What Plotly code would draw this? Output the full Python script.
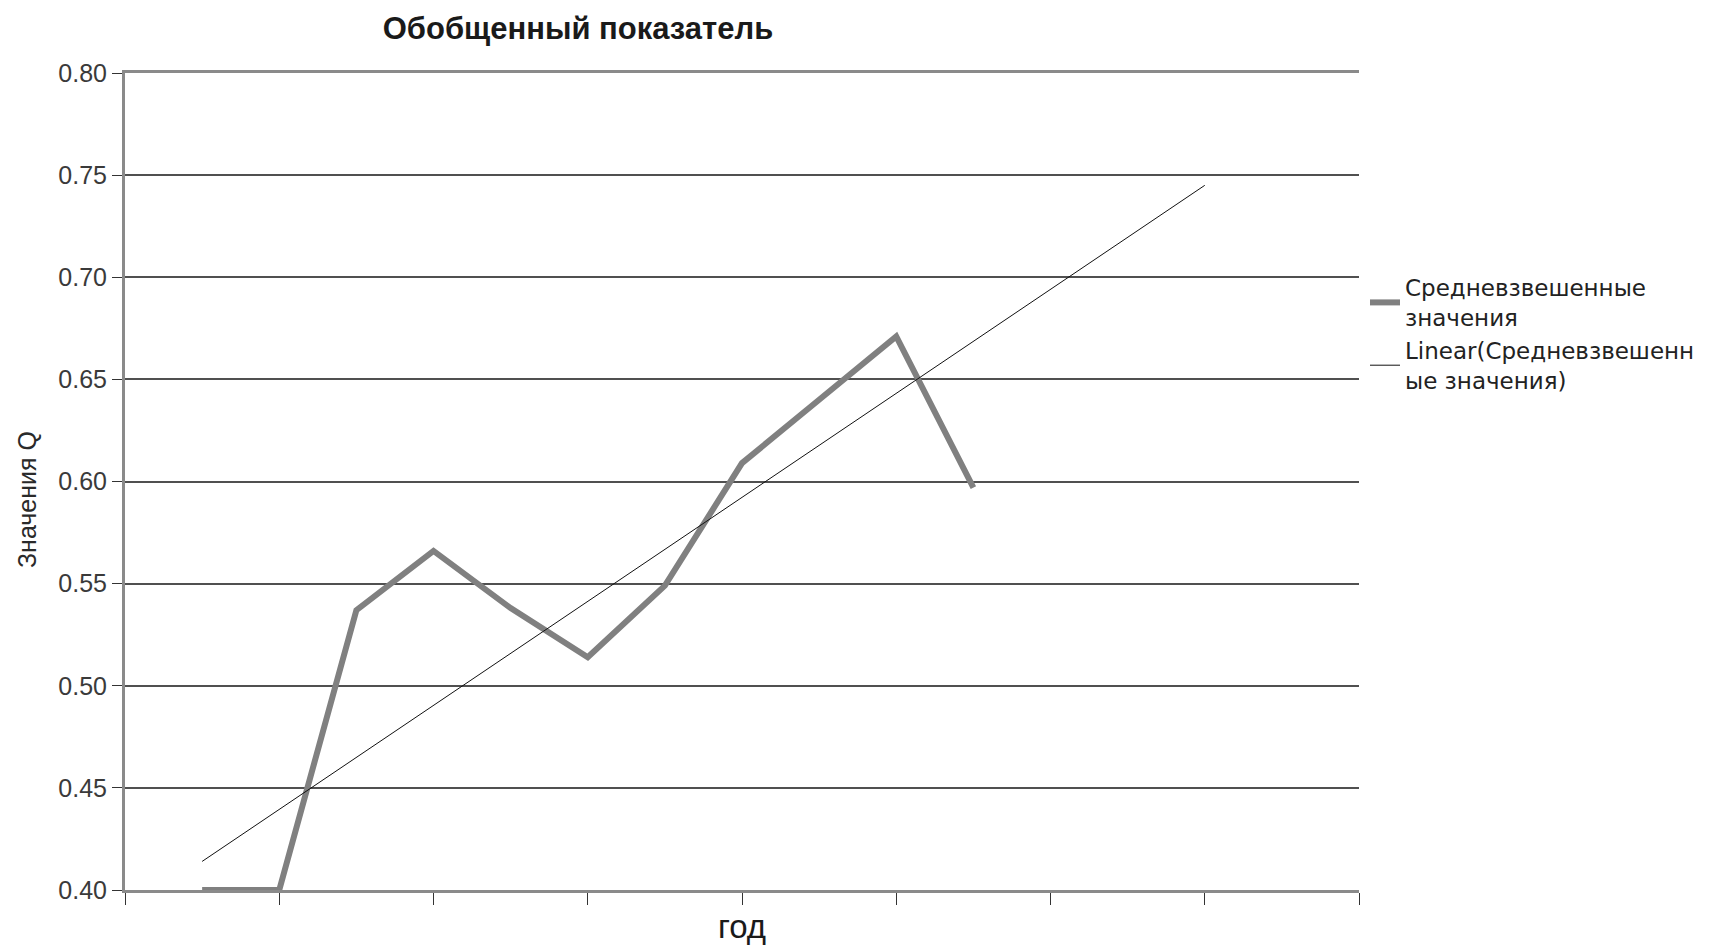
import plotly.graph_objects as go

# Data
period = [0.5, 1.0, 1.5, 2.0, 2.5, 3.0, 3.5, 4.0, 4.5, 5.0, 5.5]
weighted_values = [0.400, 0.400, 0.537, 0.566, 0.538, 0.514, 0.549, 0.609, 0.640, 0.671, 0.597]
trend_period = [0.5, 7.0]
trend_values = [0.414, 0.745]
y_ticks = [0.40, 0.45, 0.50, 0.55, 0.60, 0.65, 0.70, 0.75, 0.80]
x_ticks = [0, 1, 2, 3, 4, 5, 6, 7, 8]

series_name = "Средневзвешенные<br>значения"
trend_name = "Linear(Средневзвешенн<br>ые значения)"

L, R, T, B = 125, 350, 73, 55
W, H = 1709, 945
PW, PH = W - L - R, H - T - B

fig = go.Figure()
fig.add_trace(go.Scatter(
    x=period, y=weighted_values, mode="lines", name=series_name,
    line=dict(color="#808080", width=6), hoverinfo="x+y"))
fig.add_trace(go.Scatter(
    x=trend_period, y=trend_values, mode="lines", name=trend_name,
    line=dict(color="#111111", width=1)))

fig.update_layout(
    width=W, height=H,
    margin=dict(l=L, r=R, t=T, b=B, autoexpand=False),
    paper_bgcolor="white", plot_bgcolor="white",
    font=dict(family="Liberation Sans, Arial, sans-serif", color="#222222"),
    title=dict(text="<b>Обобщенный показатель</b>", x=578 / W, xanchor="center",
               y=1 - 28 / H, yanchor="middle", xref="container", yref="container",
               font=dict(size=31, color="#1a1a1a")),
    showlegend=True,
    legend=dict(x=1365 / W, xanchor="left", y=1 - 266 / H, yanchor="top",
                xref="container", yref="container",
                font=dict(family="DejaVu Sans, sans-serif", size=23, color="#222222"),
                itemwidth=30, valign="middle", bgcolor="rgba(0,0,0,0)",
                tracegroupgap=0),
    annotations=[dict(
        text="Значения Q", textangle=-90, showarrow=False,
        xref="paper", yref="paper", x=(27 - L) / PW, y=(H - B - 500) / PH,
        xanchor="center", yanchor="middle",
        font=dict(size=25, color="#2a2a2a"))],
)

fig.update_xaxes(
    range=[0, 8], tickvals=x_ticks, showticklabels=False,
    ticks="outside", ticklen=12, tickwidth=1, tickcolor="#333333",
    showgrid=False, zeroline=False, automargin=False,
    showline=True, linecolor="#8a8a8a", linewidth=3, mirror=True,
    title=dict(text="год", font=dict(size=33, color="#1a1a1a"), standoff=12),
)
fig.update_yaxes(
    range=[0.40, 0.80], tickvals=y_ticks, tickformat=".2f",
    ticks="outside", ticklen=10, tickwidth=1, tickcolor="#333333",
    tickfont=dict(size=25, color="#3a3a3a"), automargin=False,
    showgrid=True, gridcolor="#505050", gridwidth=2, zeroline=False,
    showline=True, linecolor="#8a8a8a", linewidth=3,
)

fig.write_html("out.html")
